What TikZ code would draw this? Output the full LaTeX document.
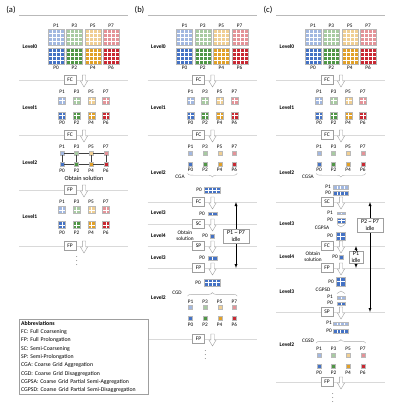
\documentclass[tikz,border=0pt]{standalone}
\usepackage{fontspec}
\setmainfont{Carlito}
\usepackage{tikz}
\usetikzlibrary{arrows,calc,decorations.pathreplacing}
\usepackage{xcolor}
\definecolor{pblue}{RGB}{68,114,196}
\definecolor{pgreen}{RGB}{80,150,70}
\definecolor{porange}{RGB}{225,160,40}
\definecolor{pred}{RGB}{200,40,50}

\tikzset{
  ttl/.style={inner sep=0pt,font=\fontsize{8.5}{9}\selectfont},
  topln/.style={gray!55,line width=0.5pt},
  sepline/.style={gray!30,line width=0.9pt},
  stepbox/.style={draw=gray!75,fill=white,line width=0.4pt,minimum width=12pt,minimum height=9pt,inner sep=0.5pt,font=\fontsize{5.5}{5.5}\selectfont},
  plab/.style={inner sep=0pt,font=\fontsize{5.3}{5.3}\selectfont},
  lvl/.style={inner sep=0pt,font=\fontsize{5.5}{5.5}\selectfont\bfseries},
  note/.style={inner sep=0pt,align=center,font=\fontsize{5.3}{5.8}\selectfont},
  dts/.style={inner sep=0pt,font=\fontsize{6}{6}\selectfont},
  gridln/.style={white,line width=0.35pt},
  blkln/.style={gray!55,line width=0.3pt},
  psq/.style={rectangle,draw=gray!55,line width=0.3pt,minimum size=4pt,inner sep=0pt},
  link/.style={gray!50!black,line width=0.4pt},
  brc/.style={decorate,decoration={brace,amplitude=3.5pt},gray!70,line width=0.4pt},
  idlearr/.style={<->,>=latex,black,line width=0.4pt},
  idlebox/.style={draw=gray!75,fill=white,line width=0.4pt,align=center,inner sep=1pt,font=\fontsize{6}{6.5}\selectfont},
  abbr/.style={draw=gray!75,line width=0.4pt,align=left,text width=125pt,inner sep=2pt,font=\fontsize{5.8}{8.3}\selectfont},
  hol/.pic={\draw[draw=gray!75,fill=white,line width=0.4pt] (-1.7,-5) -- (-1.7,1) -- (-3.6,1) -- (0,7) -- (3.6,1) -- (1.7,1) -- (1.7,-5) -- cycle;}
}

% block of cells: centre x, centre y, width, height, columns, rows, colour
\newcommand{\blk}[7]{%
  \fill[fill=#7] ({#1-#3/2},{#2-#4/2}) rectangle ({#1+#3/2},{#2+#4/2});
  \foreach \k in {1,...,#5}{\ifnum\k<#5\relax
    \draw[gridln] ({#1-#3/2+\k*#3/#5},{#2-#4/2}) -- ++(0,#4);\fi}
  \foreach \k in {1,...,#6}{\ifnum\k<#6\relax
    \draw[gridln] ({#1-#3/2},{#2-#4/2+\k*#4/#6}) -- ++(#3,0);\fi}
  \draw[blkln] ({#1-#3/2},{#2-#4/2}) rectangle ({#1+#3/2},{#2+#4/2});
}

% eight processes: label y, top y, bottom y, label y, x0, dx, size, cells, prefix
\newcommand{\procs}[9]{%
  \foreach \i/\cl in {0/pblue,1/pgreen,2/porange,3/pred}{
    \pgfmathsetmacro{\cx}{#5+\i*#6}
    \pgfmathtruncatemacro{\ptop}{2*\i+1}
    \pgfmathtruncatemacro{\pbot}{2*\i}
    \node[plab] (#9t\i) at (\cx,#1) {P\ptop};
    \blk{\cx}{#2}{#7}{#7}{#8}{#8}{\cl!50}
    \blk{\cx}{#3}{#7}{#7}{#8}{#8}{\cl}
    \node[plab] (#9b\i) at (\cx,#4) {P\pbot};
  }}

% level separator with step box and arrow
\newcommand{\stepmark}[3]{%
  \draw[sepline] (19,#1) -- (128,#1);
  \node[stepbox] (#3) at (70,#1) {#2};
  \pic at (84,#1) {hol};
}

\begin{document}
\begin{tikzpicture}[x=1pt,y=-1pt]
\useasboundingbox (0,0) rectangle (395,405);

% top part, same in all three panels
\foreach \pn/\sx in {a/0,b/128.5,c/257}{
  \begin{scope}[xshift=\sx]
    \node[ttl] (ttl\pn) at (11,10) {(\pn)};
    \draw[topln] (19,15) -- (128,15);
    \node[lvl] (lv0\pn) at (30,47) {Level0};
    \procs{26}{37}{56}{68}{56}{18.4}{16}{4}{\pn0}
    \stepmark{80}{FC}{fc1\pn}
    \node[lvl] (lv1\pn) at (30,108) {Level1};
    \procs{92}{100.5}{115.5}{123}{62}{14.6}{7}{2}{\pn1}
    \stepmark{135}{FC}{fc2\pn}
  \end{scope}
}

% (a)
\node[lvl] (lv2a) at (30,163) {Level2};
\foreach \i/\cl in {0/pblue,1/pgreen,2/porange,3/pred}{
  \pgfmathtruncatemacro{\ptop}{2*\i+1}
  \pgfmathtruncatemacro{\pbot}{2*\i}
  \node[plab] (a2t\i) at ({62+\i*14.6},147) {P\ptop};
  \node[psq,fill=\cl!50] (at\i) at ({62+\i*14.6},153) {};
  \node[psq,fill=\cl] (ab\i) at ({62+\i*14.6},164) {};
  \node[plab] (a2b\i) at ({62+\i*14.6},171) {P\pbot};
}
\foreach \i/\j in {0/1,1/2,2/3}{
  \draw[link] (at\i) -- (at\j);
  \draw[link] (ab\i) -- (ab\j);
}
\foreach \i in {0,...,3}
  \draw[link] (at\i) -- (ab\i);
\node[note,font=\fontsize{6.2}{6.5}\selectfont] (obta) at (84,178) {Obtain solution};
\stepmark{190}{FP}{fp1a}
\node[lvl] (lv1ra) at (30,217) {Level1};
\procs{202}{210}{225}{233}{62}{14.6}{7}{2}{a3}
\stepmark{246}{FP}{fp2a}
\node[dts] (dotsa) at (77,258) {$\vdots$};

% (b)
\begin{scope}[xshift=128.5]
  \node[lvl] (lv2b) at (30,173) {Level2};
  \procs{147}{153}{164}{170}{62}{14.6}{4}{1}{b2}
  \draw[brc,decoration={mirror}] ([yshift=-1.5pt]b2b0.south west) -- ([yshift=-1.5pt]b2b3.south east);
  \node[note] (cga) at (51.5,177) {CGA};
  \node[plab] (b2p0) at (70.5,190) {P0};
  \blk{83.5}{190}{16}{6}{4}{2}{pblue}
  \stepmark{202}{FC}{fc3b}
  \node[lvl] (lv3b) at (30,213) {Level3};
  \node[plab] (b3p0) at (73.5,213.5) {P0};
  \blk{84}{213.5}{9}{3.5}{2}{1}{pblue}
  \stepmark{224}{SC}{scb}
  \node[lvl] (lv4b) at (30,236) {Level4};
  \node[note] (obtb) at (56.5,235.5) {Obtain\\solution};
  \node[plab] (b4p0) at (76.5,236) {P0};
  \blk{83.5}{236}{3.5}{4}{1}{1}{pblue}
  \stepmark{246}{SP}{spb}
  \node[lvl] (lv3rb) at (30,258) {Level3};
  \node[plab] (b5p0) at (73.5,258) {P0};
  \blk{84}{258}{9}{3.5}{2}{1}{pblue}
  \stepmark{268}{FP}{fp1b}
  \coordinate (bup) at (107.5,202);
  \coordinate (bdn) at (107.5,268);
  \draw[idlearr] (bup) -- (bdn);
  \node[idlebox,minimum width=26pt,minimum height=14pt] (idleb) at (107.5,236) {P1 \textasciitilde{} P7\\idle};
  \node[plab] (b6p0) at (69.5,283) {P0};
  \blk{83.5}{282.5}{16}{7}{4}{2}{pblue}
  \node[note] (cgd) at (48.5,293) {CGD};
  \node[lvl] (lv2rb) at (30,298) {Level2};
  \procs{302}{307}{318}{325}{62}{14.6}{4}{1}{b7}
  \draw[brc] ([yshift=4pt]b7t0.north west) -- ([yshift=4pt]b7t3.north east);
  \stepmark{339}{FP}{fp2b}
  \node[dts] (dotsb) at (77,352) {$\vdots$};
\end{scope}

% (c)
\begin{scope}[xshift=257]
  \node[lvl] (lv2c) at (30,173) {Level2};
  \procs{147}{153}{164}{170}{62}{14.6}{4}{1}{c2}
  \draw[brc,decoration={mirror}] ([yshift=-1.5pt]c2b0.south west) -- ([yshift=-1.5pt]c2b3.south east);
  \node[note] (cgsa) at (51,177) {CGSA};
  \node[plab] (c2p1) at (71,187) {P1};
  \blk{83.5}{187}{15}{4}{4}{1}{pblue!50}
  \node[plab] (c2p0) at (71,193) {P0};
  \blk{83.5}{193}{15}{4}{4}{1}{pblue}
  \stepmark{202}{SC}{scc}
  \node[lvl] (lv3c) at (30,224) {Level3};
  \node[plab] (c3p1) at (73,213) {P1};
  \blk{84}{213}{8}{2.5}{2}{1}{pblue!50}
  \node[plab] (c3p0) at (73,220) {P0};
  \blk{84}{220.5}{8}{5}{2}{2}{pblue}
  \coordinate (c3l) at (80,224.5);
  \coordinate (c3r) at (88,224.5);
  \draw[brc,decoration={mirror,amplitude=2.5pt}] (c3l) -- (c3r);
  \node[note] (cgpsa) at (65,228) {CGPSA};
  \node[plab] (c4p0) at (73,236) {P0};
  \blk{83.5}{236}{9}{8}{2}{2}{pblue}
  \stepmark{246}{FC}{fc3c}
  \node[lvl] (lv4c) at (30,257) {Level4};
  \node[note] (obtc) at (56,256.5) {Obtain\\solution};
  \node[plab] (c5p0) at (78,257) {P0};
  \blk{84}{257}{3.5}{4}{1}{1}{pblue}
  \stepmark{268}{FP}{fp1c}
  \node[lvl] (lv3rc) at (30,292) {Level3};
  \node[plab] (c6p0) at (74,282) {P0};
  \blk{83.5}{281.5}{9}{9}{2}{2}{pblue}
  \node[note] (cgpsd) at (66,290) {CGPSD};
  \coordinate (c6l) at (80,293.5);
  \coordinate (c6r) at (88,293.5);
  \draw[brc,decoration={amplitude=2.5pt}] (c6l) -- (c6r);
  \node[plab] (c6p1) at (73,297) {P1};
  \blk{84}{297.5}{8}{3}{2}{1}{pblue!50}
  \node[plab] (c7p0) at (73,303) {P0};
  \blk{84}{303.5}{8}{3.5}{2}{1}{pblue}
  \stepmark{312}{SP}{spc}
  \node[plab] (c8p1) at (72,323) {P1};
  \blk{83.5}{323.5}{15}{3.5}{4}{1}{pblue!50}
  \node[plab] (c8p0) at (72,331) {P0};
  \blk{83.5}{331}{15}{4}{4}{1}{pblue}
  \node[note] (cgsd) at (51,341) {CGSD};
  \node[lvl] (lv2rc) at (30,345) {Level2};
  \procs{349}{355}{366}{373}{62}{14.6}{4}{1}{c9}
  \draw[brc] ([yshift=4pt]c9t0.north west) -- ([yshift=4pt]c9t3.north east);
  \stepmark{382}{FP}{fp2c}
  \node[dts] (dotsc) at (76,395) {$\vdots$};
  % idle processes
  \coordinate (cup) at (113,202);
  \coordinate (cdn) at (113,312);
  \draw[idlearr] (cup) -- (cdn);
  \node[idlebox,minimum width=26pt,minimum height=14pt] (idlec) at (113,225) {P2 \textasciitilde{} P7\\idle};
  \coordinate (c1up) at (99,246);
  \coordinate (c1dn) at (99,268);
  \draw[idlearr] (c1up) -- (c1dn);
  \node[idlebox,minimum width=14pt,minimum height=12pt] (idlec1) at (99,257) {P1\\idle};
\end{scope}

% abbreviations
\node[abbr,anchor=north west] (abbr) at (19,319) {\textbf{Abbreviations}\\
FC: Full Coarsening\\
FP: Full Prolongation\\
SC: Semi-Coarsening\\
SP: Semi-Prolongation\\
CGA: Coarse Grid Aggregation\\
CGD: Coarse Grid Disaggregation\\
CGPSA: Coarse Grid Partial Semi-Aggregation\\
CGPSD: Coarse Grid Partial Semi-Disaggregation};
\end{tikzpicture}
\end{document}
